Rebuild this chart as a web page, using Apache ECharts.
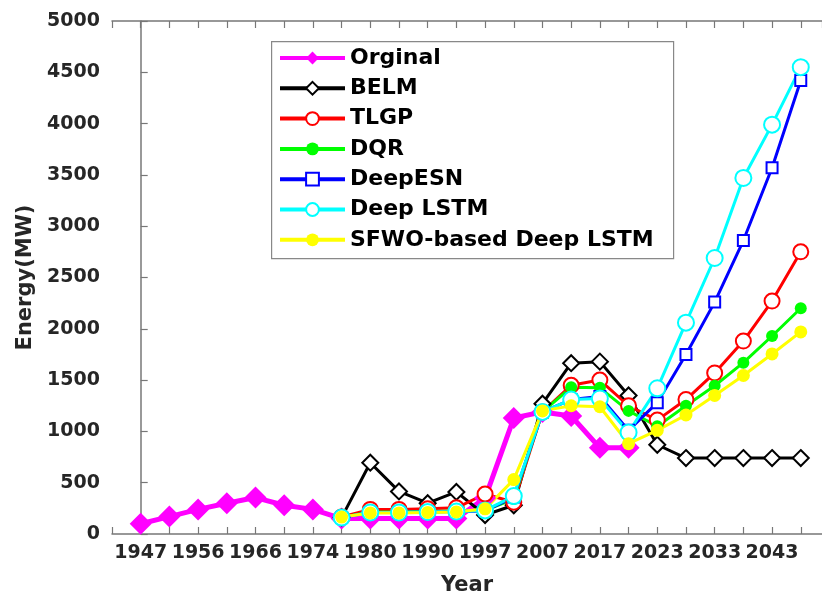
<!DOCTYPE html>
<html>
<head>
<meta charset="utf-8">
<script src="https://cdn.jsdelivr.net/npm/echarts@6/dist/echarts.min.js"></script>
<style>
  html, body { margin: 0; padding: 0; background: #fff; }
  #chart { width: 822px; height: 601px; }
</style>
</head>
<body>
<div id="chart"></div>
<script>
// x categories (only every other one gets a label)
const years = ['1947', '1951', '1956', '1961', '1966', '1970', '1974', '1977', '1980', '1985', '1990', '1994',
  '1997', '2002', '2007', '2012', '2017', '2020', '2023', '2028', '2033', '2038', '2043', '2048'];
const yTicks = [0, 500, 1000, 1500, 2000, 2500, 3000, 3500, 4000, 4500, 5000];

const orginal = [100, 170, 240, 300, 355, 280, 240, 150, 150, 150, 150, 150, 350, 1130, 1190, 1150, 840, 840,
  null, null, null, null, null, null];
const belm = [null, null, null, null, null, null, null, 160, 695, 415, 300, 410, 185, 280, 1270, 1665, 1680, 1350,
  870, 740, 740, 740, 740, 740];
const tlgp = [null, null, null, null, null, null, null, 165, 240, 240, 245, 255, 390, 310, 1190, 1450, 1500, 1250,
  1110, 1310, 1570, 1880, 2270, 2750];
const dqr = [null, null, null, null, null, null, null, 160, 215, 215, 220, 225, 230, 340, 1190, 1430, 1425, 1200,
  1050, 1250, 1445, 1670, 1930, 2200];
const deepEsn = [null, null, null, null, null, null, null, 160, 210, 210, 215, 220, 225, 360, 1190, 1310, 1340, 1010,
  1280, 1750, 2260, 2860, 3570, 4420];
const deepLstm = [null, null, null, null, null, null, null, 160, 210, 210, 215, 220, 230, 370, 1190, 1310, 1320, 990,
  1420, 2060, 2690, 3470, 3990, 4550];
const sfwo = [null, null, null, null, null, null, null, 165, 205, 205, 210, 215, 245, 530, 1200, 1250, 1240, 880,
  1010, 1160, 1350, 1545, 1755, 1970];

const FONT = 'DejaVu Sans';
const txt = '#262626';
const axisCol = '#777';
// plot runs past the right edge of the picture, so cut the x range there
const xMax = 23.74;

function pts(arr) {
  return arr.map((v, i) => [i, v]);
}

function line(name, data, color, symbol, size, width, extra) {
  return Object.assign({
    name: name,
    type: 'line',
    data: pts(data),
    symbol: symbol,
    symbolSize: size,
    connectNulls: false,
    lineStyle: { color: color, width: width },
    itemStyle: { color: color, borderColor: color, borderWidth: 3 },
    emphasis: { disabled: true },
    animation: false
  }, extra || {});
}

const chart = echarts.init(document.getElementById('chart'));
chart.setOption({
  backgroundColor: '#fff',
  grid: { left: 112, top: 21, right: 0, height: 514 },
  graphic: [{
    type: 'rect',
    left: 271, top: 41,
    shape: { width: 402, height: 217 },
    style: { fill: '#fff', stroke: '#888', lineWidth: 1.2 },
    z: 50
  }],
  legend: {
    orient: 'vertical',
    left: 272, top: 41,
    padding: [6, 6, 6, 6],
    itemWidth: 65,
    itemHeight: 16,
    itemGap: 8.3,
    z: 60,
    lineStyle: { width: 4 },
    textStyle: { fontFamily: FONT, fontWeight: 'bold', fontSize: 22, color: '#000', lineHeight: 22 },
    data: ['Orginal', 'BELM', 'TLGP', 'DQR', 'DeepESN', 'Deep LSTM', 'SFWO-based Deep LSTM']
  },
  xAxis: [{
    type: 'value',
    min: -1, max: xMax, interval: 1,
    name: 'Year',
    nameLocation: 'middle',
    nameGap: 41,
    nameTextStyle: { fontFamily: FONT, fontWeight: 'bold', fontSize: 21, color: txt },
    axisLine: { lineStyle: { color: axisCol, width: 1.5 } },
    axisTick: { inside: true, length: 7, lineStyle: { color: axisCol, width: 1.2 } },
    splitLine: { show: false },
    axisLabel: {
      margin: 10,
      showMaxLabel: false,
      fontFamily: FONT, fontWeight: 'bold', fontSize: 19, color: txt,
      formatter: v => (v >= 0 && v < years.length && v % 2 === 0) ? years[v] : ''
    }
  }, {
    type: 'value',
    position: 'top',
    min: -1, max: xMax, interval: 1,
    axisLine: { lineStyle: { color: axisCol, width: 1.5 } },
    axisTick: { inside: true, length: 7, lineStyle: { color: axisCol, width: 1.2 } },
    axisLabel: { show: false },
    splitLine: { show: false }
  }],
  yAxis: {
    type: 'value',
    min: yTicks[0], max: yTicks[yTicks.length - 1], interval: 500,
    name: 'Energy(MW)',
    nameLocation: 'middle',
    nameGap: 72,
    nameTextStyle: { fontFamily: FONT, fontWeight: 'bold', fontSize: 21, color: txt },
    axisLine: { show: true, lineStyle: { color: axisCol, width: 1.5 } },
    axisTick: { show: true, inside: true, length: 7, lineStyle: { color: axisCol, width: 1.2 } },
    splitLine: { show: false },
    axisLabel: {
      margin: 12, fontFamily: FONT, fontWeight: 'bold', fontSize: 19, color: txt,
      formatter: v => String(v)
    }
  },
  series: [
    line('Orginal', orginal, '#ff00ff', 'diamond', 22, 5, { itemStyle: { color: '#ff00ff' } }),
    line('BELM', belm, '#000000', 'emptyDiamond', 16, 3),
    line('TLGP', tlgp, '#ff0000', 'emptyCircle', 15, 3),
    line('DQR', dqr, '#00ff00', 'circle', 12, 3, { itemStyle: { color: '#00ff00' } }),
    line('DeepESN', deepEsn, '#0000ff', 'emptyRect', 11, 3),
    line('Deep LSTM', deepLstm, '#00ffff', 'emptyCircle', 16, 3),
    line('SFWO-based Deep LSTM', sfwo, '#ffff00', 'circle', 13, 3, { itemStyle: { color: '#ffff00' } })
  ]
});
</script>
</body>
</html>
